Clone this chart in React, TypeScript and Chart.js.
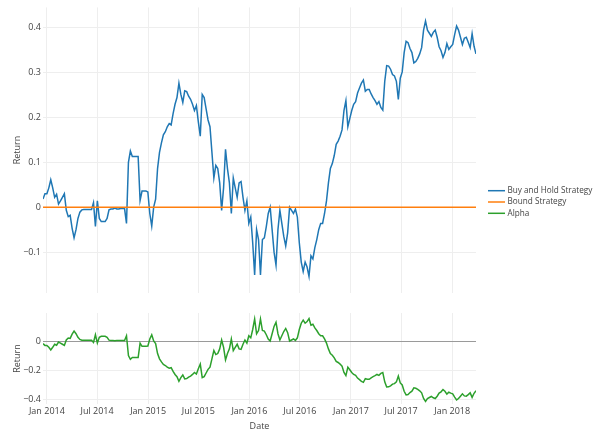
import React, { useEffect, useRef } from 'react';
import { Chart, registerables } from 'chart.js';

Chart.register(...registerables);

// ---------- data ----------
const START_DATE = '2013-12-18';
const STEP_DAYS = 7; // weekly samples
const AXIS_ORIGIN = '2014-01-01';

const buyAndHold = [
  0.018, 0.030, 0.030, 0.043, 0.061, 0.043, 0.022, 0.029, 0.007, 0.014,
  0.022, 0.030, -0.007, -0.021, -0.018, -0.047, -0.068, -0.050, -0.025, -0.011,
  -0.006, -0.005, -0.005, -0.005, -0.005, -0.005, 0.010, -0.043, 0.014, -0.025,
  -0.032, -0.032, -0.032, -0.025, -0.006, -0.004, -0.004, -0.002, -0.004, -0.004,
  -0.003, -0.003, -0.003, -0.036, 0.100, 0.125, 0.113, 0.113, 0.113, 0.113,
  0.015, 0.036, 0.036, 0.036, 0.034, -0.014, -0.042, 0.000, 0.018, 0.086,
  0.122, 0.143, 0.161, 0.168, 0.179, 0.186, 0.183, 0.208, 0.229, 0.244,
  0.276, 0.251, 0.233, 0.259, 0.257, 0.247, 0.240, 0.229, 0.215, 0.226,
  0.190, 0.158, 0.251, 0.244, 0.219, 0.194, 0.179, 0.122, 0.065, 0.093,
  0.086, 0.054, -0.007, 0.043, 0.129, 0.086, 0.054, -0.014, 0.065, 0.043,
  0.022, 0.054, 0.057, 0.022, -0.007, 0.014, -0.036, -0.022, -0.079, -0.151,
  -0.050, -0.072, -0.151, -0.072, -0.068, -0.043, -0.014, 0.000, -0.050, -0.100,
  -0.129, -0.050, -0.007, -0.036, -0.065, -0.086, -0.057, 0.000, -0.007, -0.014,
  -0.004, -0.022, -0.079, -0.122, -0.143, -0.122, -0.133, -0.154, -0.108, -0.115,
  -0.090, -0.072, -0.050, -0.036, -0.036, -0.014, 0.014, 0.054, 0.086, 0.097,
  0.115, 0.140, 0.147, 0.158, 0.172, 0.215, 0.237, 0.179, 0.197, 0.215,
  0.229, 0.235, 0.254, 0.265, 0.276, 0.283, 0.258, 0.262, 0.262, 0.252,
  0.244, 0.237, 0.229, 0.235, 0.222, 0.216, 0.280, 0.315, 0.314, 0.307,
  0.295, 0.292, 0.280, 0.240, 0.287, 0.301, 0.344, 0.369, 0.366, 0.353,
  0.344, 0.321, 0.324, 0.331, 0.341, 0.355, 0.394, 0.414, 0.394, 0.387,
  0.380, 0.389, 0.394, 0.378, 0.357, 0.348, 0.333, 0.344, 0.364, 0.351,
  0.357, 0.362, 0.384, 0.403, 0.394, 0.378, 0.362, 0.376, 0.378, 0.367,
  0.355, 0.386, 0.358, 0.341,
];

const BOUND_VALUE = 0;

const alpha = [
  -0.018, -0.030, -0.030, -0.043, -0.061, -0.043, -0.022, -0.029, -0.007, -0.014,
  -0.022, -0.030, 0.007, 0.021, 0.018, 0.047, 0.068, 0.050, 0.025, 0.011,
  0.006, 0.005, 0.005, 0.005, 0.005, 0.005, -0.010, 0.043, -0.014, 0.025,
  0.032, 0.032, 0.032, 0.025, 0.006, 0.004, 0.004, 0.002, 0.004, 0.004,
  0.003, 0.003, 0.003, 0.036, -0.100, -0.125, -0.113, -0.113, -0.113, -0.113,
  -0.015, -0.036, -0.036, -0.036, -0.034, 0.014, 0.042, 0.000, -0.018, -0.086,
  -0.122, -0.143, -0.161, -0.168, -0.179, -0.186, -0.183, -0.208, -0.229, -0.244,
  -0.276, -0.251, -0.233, -0.259, -0.257, -0.247, -0.240, -0.229, -0.215, -0.226,
  -0.190, -0.158, -0.251, -0.244, -0.219, -0.194, -0.179, -0.122, -0.065, -0.093,
  -0.086, -0.054, 0.007, -0.043, -0.129, -0.086, -0.054, 0.014, -0.065, -0.043,
  -0.022, -0.054, -0.057, -0.022, 0.007, -0.014, 0.036, 0.022, 0.079, 0.151,
  0.050, 0.072, 0.151, 0.072, 0.068, 0.043, 0.014, 0.000, 0.050, 0.100,
  0.129, 0.050, 0.007, 0.036, 0.065, 0.086, 0.057, 0.000, 0.007, 0.014,
  0.004, 0.022, 0.079, 0.122, 0.143, 0.122, 0.133, 0.154, 0.108, 0.115,
  0.090, 0.072, 0.050, 0.036, 0.036, 0.014, -0.014, -0.054, -0.086, -0.097,
  -0.115, -0.140, -0.147, -0.158, -0.172, -0.215, -0.237, -0.179, -0.197, -0.215,
  -0.229, -0.235, -0.254, -0.265, -0.276, -0.283, -0.258, -0.262, -0.262, -0.252,
  -0.244, -0.237, -0.229, -0.235, -0.222, -0.216, -0.280, -0.315, -0.314, -0.307,
  -0.295, -0.292, -0.280, -0.240, -0.287, -0.301, -0.344, -0.369, -0.366, -0.353,
  -0.344, -0.321, -0.324, -0.331, -0.341, -0.355, -0.394, -0.414, -0.394, -0.387,
  -0.380, -0.389, -0.394, -0.378, -0.357, -0.348, -0.333, -0.344, -0.364, -0.351,
  -0.357, -0.362, -0.384, -0.403, -0.394, -0.378, -0.362, -0.376, -0.378, -0.367,
  -0.355, -0.386, -0.358, -0.341,
];

const xTickDates = [
  '2014-01-01', '2014-07-01', '2015-01-01', '2015-07-01', '2016-01-01',
  '2016-07-01', '2017-01-01', '2017-07-01', '2018-01-01',
];
const xTickLabels = [
  'Jan 2014', 'Jul 2014', 'Jan 2015', 'Jul 2015', 'Jan 2016',
  'Jul 2016', 'Jan 2017', 'Jul 2017', 'Jan 2018',
];
const topYTicks = [-0.1, 0, 0.1, 0.2, 0.3, 0.4];
const bottomYTicks = [-0.4, -0.2, 0];
const legendNames = ['Buy and Hold Strategy', 'Bound Strategy', 'Alpha'];
const seriesColors = ['#1f77b4', '#ff7f0e', '#2ca02c'];

// ---------- helpers ----------
const DAY = 86400000;
const dayOf = (iso: string) => (Date.parse(iso) - Date.parse(AXIS_ORIGIN)) / DAY;
const startDay = dayOf(START_DATE);
const xs = buyAndHold.map((_, i) => startDay + i * STEP_DAYS);
const xMin = xs[0];
const xMax = xs[xs.length - 1];
const xTickValues = xTickDates.map(dayOf);

const FONT = '"Open Sans", "Noto Sans", sans-serif';
const TEXT = '#444444';
const GRID = '#eeeeee';
const ZERO = '#9a9a9a';

const fmtY = (v: number) => {
  if (Math.abs(v) < 1e-9) return '0';
  const s = String(Math.round(Math.abs(v) * 10) / 10);
  return v < 0 ? '\u2212' + s : s;
};

const legendPlugin = {
  id: 'sideLegend',
  afterDraw(chart: any) {
    const ctx = chart.ctx;
    ctx.save();
    ctx.font = `8.2px ${FONT}`;
    ctx.textBaseline = 'middle';
    ctx.textAlign = 'left';
    legendNames.forEach((name, i) => {
      const y = 190.7 + i * 11.3;
      ctx.strokeStyle = seriesColors[i];
      ctx.lineWidth = 1.5;
      ctx.beginPath();
      ctx.moveTo(488, y);
      ctx.lineTo(505, y);
      ctx.stroke();
      ctx.fillStyle = TEXT;
      ctx.fillText(name, 507.5, y);
    });
    ctx.restore();
  },
};

function xScale(showLabels: boolean): any {
  return {
    type: 'linear',
    min: xMin,
    max: xMax,
    afterBuildTicks: (s: any) => {
      s.ticks = xTickValues.map((v) => ({ value: v }));
    },
    afterFit: (s: any) => {
      s.height = showLabels ? 30 : 0;
    },
    ticks: {
      display: showLabels,
      autoSkip: false,
      maxRotation: 0,
      padding: 2,
      color: TEXT,
      font: { family: FONT, size: 9 },
      callback: (_v: any, i: number) => xTickLabels[i],
    },
    grid: { color: GRID, drawTicks: false, lineWidth: 1 },
    border: { display: false },
    title: {
      display: showLabels,
      text: 'Date',
      color: TEXT,
      font: { family: FONT, size: 9 },
      padding: { top: 0, bottom: 2.6 },
    },
  };
}

function yScale(min: number, max: number, ticks: number[]): any {
  return {
    type: 'linear',
    min,
    max,
    afterBuildTicks: (s: any) => {
      s.ticks = ticks.map((v) => ({ value: v }));
    },
    afterFit: (s: any) => {
      s.width = 43;
    },
    ticks: {
      padding: 2,
      color: TEXT,
      font: { family: FONT, size: 9 },
      callback: (v: any) => fmtY(Number(v)),
    },
    grid: {
      drawTicks: false,
      color: (c: any) => (c.tick && Math.abs(c.tick.value) < 1e-9 ? ZERO : GRID),
      lineWidth: 1,
    },
    border: { display: false },
    title: {
      display: true,
      text: 'Return',
      color: TEXT,
      font: { family: FONT, size: 9 },
      padding: { top: 11.6, bottom: 0 },
    },
  };
}

const baseOptions = (padding: any) => ({
  responsive: false,
  animation: false as const,
  events: [] as any[],
  layout: { padding },
  plugins: { legend: { display: false }, tooltip: { enabled: false } },
  elements: { point: { radius: 0 }, line: { tension: 0 } },
});

export default function App() {
  const topRef = useRef<HTMLCanvasElement>(null);
  const botRef = useRef<HTMLCanvasElement>(null);

  useEffect(() => {
    const top = new Chart(topRef.current as HTMLCanvasElement, {
      type: 'line',
      data: {
        datasets: [
          {
            label: legendNames[1],
            data: xs.map((x) => ({ x, y: BOUND_VALUE })),
            borderColor: seriesColors[1],
            borderWidth: 1.6,
          },
          {
            label: legendNames[0],
            data: xs.map((x, i) => ({ x, y: buyAndHold[i] })),
            borderColor: seriesColors[0],
            borderWidth: 1.5,
          },
        ],
      },
      options: {
        ...baseOptions({ left: 0, right: 126, top: 0, bottom: 5 }),
        scales: {
          x: xScale(false),
          y: yScale(-0.19, 0.4445, topYTicks),
        },
      } as any,
      plugins: [legendPlugin],
    });

    const bot = new Chart(botRef.current as HTMLCanvasElement, {
      type: 'line',
      data: {
        datasets: [
          {
            label: legendNames[2],
            data: xs.map((x, i) => ({ x, y: alpha[i] })),
            borderColor: seriesColors[2],
            borderWidth: 1.5,
          },
        ],
      },
      options: {
        ...baseOptions({ left: 0, right: 126, top: 13, bottom: 0 }),
        scales: {
          x: xScale(true),
          y: yScale(-0.4315, 0.192, bottomYTicks),
        },
      } as any,
    });

    return () => {
      top.destroy();
      bot.destroy();
    };
  }, []);

  return (
    <div
      style={{
        position: 'fixed',
        left: 0,
        top: 0,
        width: 602,
        height: 430,
        overflow: 'hidden',
        background: '#ffffff',
      }}
    >
      <canvas
        ref={topRef}
        width={602}
        height={300}
        style={{ position: 'absolute', left: 0, top: 0, width: 602, height: 300 }}
      />
      <canvas
        ref={botRef}
        width={602}
        height={134}
        style={{ position: 'absolute', left: 0, top: 300, width: 602, height: 134 }}
      />
    </div>
  );
}
